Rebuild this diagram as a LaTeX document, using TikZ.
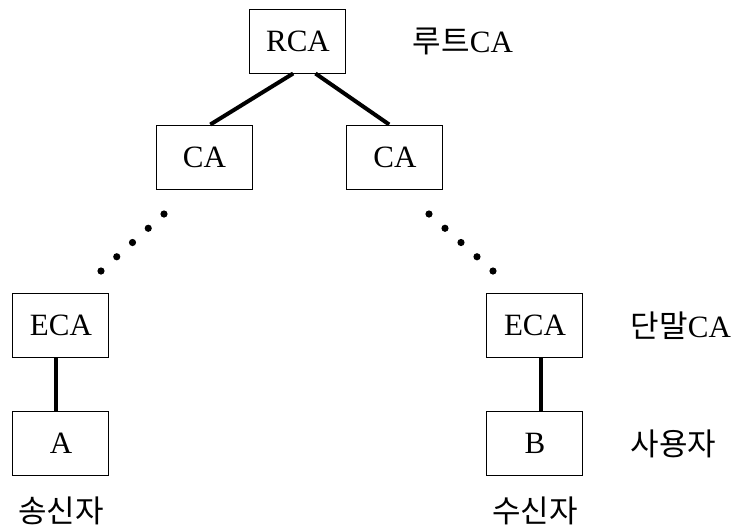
\documentclass[tikz,border=0pt]{standalone}
\usepackage{fontspec}
\setmainfont{Liberation Serif}
\newfontfamily\krfont{Noto Sans CJK KR}
\usetikzlibrary{positioning,calc}

\begin{document}
\begin{tikzpicture}[x=0.5pt,y=-0.5pt,node distance=1cm,
    font=\fontsize{15.5}{18}\selectfont,
    box/.style={draw, line width=0.5pt, minimum width=48pt, minimum height=32pt, inner sep=0pt},
    lbl/.style={inner sep=0pt},
    link/.style={line width=2pt}]
    \useasboundingbox (0,0) rectangle (736,527);
    % certification tree
    \node [box] (RCA) at (298,41)    {RCA};
    \node [box] (CAl) at (204.5,157) {CA};
    \node [box] (CAr) at (395,157)   {CA};
    \node [box] (ECAl) at (61,325.5) {ECA};
    \node [box] (ECAr) at (535,325.5) {ECA};
    \node [box, below=26.5pt of ECAl] (A) {A};
    \node [box, below=26.5pt of ECAr] (B) {B};
    % labels
    \node [lbl, right=33pt of RCA]    (root)     {\krfont 루트\rmfamily CA};
    \node [lbl, right=23.5pt of ECAr] (eca)      {\krfont 단말\rmfamily CA};
    \node [lbl, right=23.5pt of B]    (user)     {\krfont 사용자};
    \node [lbl, below=10pt of A]      (sender)   {\krfont 송신자};
    \node [lbl, below=10pt of B]      (receiver) {\krfont 수신자};
    % links
    \draw [link] ($(RCA.south west)!0.45!(RCA.south east)$) -- ($(CAl.north west)!0.56!(CAl.north east)$);
    \draw [link] ($(RCA.south west)!0.68!(RCA.south east)$) -- ($(CAr.north west)!0.44!(CAr.north east)$);
    \draw [link] ([xshift=-2.5pt]ECAl.south) -- ([xshift=-2.5pt]A.north);
    \draw [link] ([xshift=3pt]ECAr.south) -- ([xshift=3pt]B.north);
    % dotted paths
    \coordinate (ldots) at (164,214);
    \coordinate (ldotsend) at (101,271);
    \coordinate (rdots) at (429,214);
    \coordinate (rdotsend) at (493,271);
    \foreach \i in {0,...,4} {
        \fill ($(ldots)!\i/4!(ldotsend)$) circle (1.8pt);
        \fill ($(rdots)!\i/4!(rdotsend)$) circle (1.8pt);
    }
\end{tikzpicture}
\end{document}
